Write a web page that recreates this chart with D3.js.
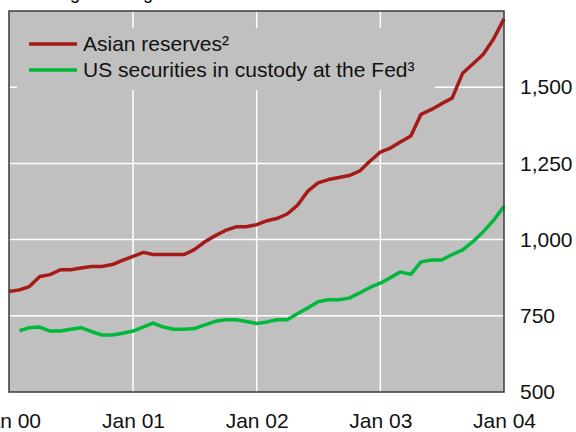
<!DOCTYPE html>
<html>
<head>
<meta charset="utf-8">
<script src="https://cdn.jsdelivr.net/npm/d3@7"></script>
<style>
  body { margin: 0; background: #fff; }
  text { font-family: "Liberation Sans", Arial, sans-serif; }
</style>
</head>
<body>
<div id="chart"></div>
<script>
// monthly values, in billions of US dollars
var asianStart = new Date(2000, 0, 1);
var asianReserves = [830, 835, 846, 879, 885, 901, 901, 907, 912, 912, 918, 932,
    945, 958, 951, 951, 951, 951, 967, 993, 1013, 1030, 1042, 1042,
    1049, 1062, 1069, 1084, 1112, 1159, 1186, 1197, 1204, 1210, 1225, 1257,
    1287, 1301, 1320, 1340, 1411, 1427, 1446, 1464, 1546, 1576, 1608, 1658,
    1724];

var custodyStart = new Date(2000, 1, 1);
var custodyFed = [701, 711, 713, 700, 700, 706, 711, 698, 687, 687, 693,
    700, 714, 726, 713, 706, 706, 708, 720, 732, 737, 737, 731,
    725, 730, 737, 737, 757, 776, 796, 803, 803, 808, 825, 843,
    857, 876, 894, 886, 927, 933, 933, 951, 966, 993, 1026, 1063,
    1109];

var seriesNames = ["Asian reserves\u00b2", "US securities in custody at the Fed\u00b3"];
var seriesColors = ["#a61b18", "#00b83a"];
var yTicks = [500, 750, 1000, 1250, 1500];
var xTicks = [new Date(2000, 0, 1), new Date(2001, 0, 1), new Date(2002, 0, 1),
    new Date(2003, 0, 1), new Date(2004, 0, 1)];
var titleText = "Foreign holdings of US securities\u00b9";

var margin = { top: 11, right: 72, bottom: 40, left: 9 },
    width = 576 - margin.left - margin.right,
    height = 432 - margin.top - margin.bottom;

var svg = d3.select("#chart")
    .append("svg")
    .attr("width", 576)
    .attr("height", 432);

// title sits mostly above the visible area
svg.append("text")
    .attr("x", 29)
    .attr("y", -1)
    .style("font-size", "18px")
    .text(titleText);

var g = svg.append("g")
    .attr("transform", "translate(" + margin.left + "," + margin.top + ")");

var x = d3.scaleTime()
    .domain([xTicks[0], xTicks[xTicks.length - 1]])
    .range([0, width]);

var y = d3.scaleLinear()
    .domain([500, 1750])
    .range([height, 0]);

function toPoints(start, values) {
    return values.map(function (v, i) {
        return { date: d3.timeMonth.offset(start, i), value: v };
    });
}

g.append("rect")
    .attr("width", width)
    .attr("height", height)
    .attr("fill", "#c0c0c0");

// grid
g.append("g")
    .selectAll("line")
    .data(yTicks.slice(1))
    .enter().append("line")
    .attr("x1", 0).attr("x2", width)
    .attr("y1", d => y(d)).attr("y2", d => y(d))
    .attr("stroke", "#fff")
    .attr("stroke-width", 1.5);

g.append("g")
    .selectAll("line")
    .data(xTicks.slice(1, -1))
    .enter().append("line")
    .attr("x1", d => x(d)).attr("x2", d => x(d))
    .attr("y1", 0).attr("y2", height)
    .attr("stroke", "#fff")
    .attr("stroke-width", 1.5);

// legend box covers the grid
var legend = g.append("g").attr("transform", "translate(8,17)");
legend.append("rect")
    .attr("width", 418)
    .attr("height", 62)
    .attr("fill", "#c0c0c0");

seriesNames.forEach(function (name, i) {
    var row = legend.append("g").attr("transform", "translate(0," + (16 + i * 26) + ")");
    row.append("line")
        .attr("x1", 12).attr("x2", 60)
        .attr("stroke", seriesColors[i])
        .attr("stroke-width", 3.5);
    row.append("text")
        .attr("x", 66)
        .attr("y", 7)
        .style("font-size", "21px")
        .attr("fill", "#111")
        .text(name);
});

var line = d3.line()
    .x(d => x(d.date))
    .y(d => y(d.value));

g.append("path")
    .datum(toPoints(custodyStart, custodyFed))
    .attr("fill", "none")
    .attr("stroke", seriesColors[1])
    .attr("stroke-width", 3.5)
    .attr("stroke-linejoin", "round")
    .attr("d", line);

g.append("path")
    .datum(toPoints(asianStart, asianReserves))
    .attr("fill", "none")
    .attr("stroke", seriesColors[0])
    .attr("stroke-width", 3.5)
    .attr("stroke-linejoin", "round")
    .attr("d", line);

// frame
g.append("rect")
    .attr("width", width)
    .attr("height", height)
    .attr("fill", "none")
    .attr("stroke", "#3a3a3a")
    .attr("stroke-width", 1.5);

// axes
var yAxis = g.append("g")
    .attr("transform", "translate(" + width + ",0)")
    .call(d3.axisRight(y).tickValues(yTicks).tickFormat(d3.format(",")).tickSize(0).tickPadding(16));
yAxis.select(".domain").remove();

var xAxis = g.append("g")
    .attr("transform", "translate(0," + height + ")")
    .call(d3.axisBottom(x).tickValues(xTicks).tickFormat(d3.timeFormat("%b %y")).tickSize(0).tickPadding(21));
xAxis.select(".domain").remove();

g.selectAll(".tick text")
    .style("font-size", "21px")
    .style("font-family", "'Liberation Sans', Arial, sans-serif")
    .attr("fill", "#111");
</script>
</body>
</html>
